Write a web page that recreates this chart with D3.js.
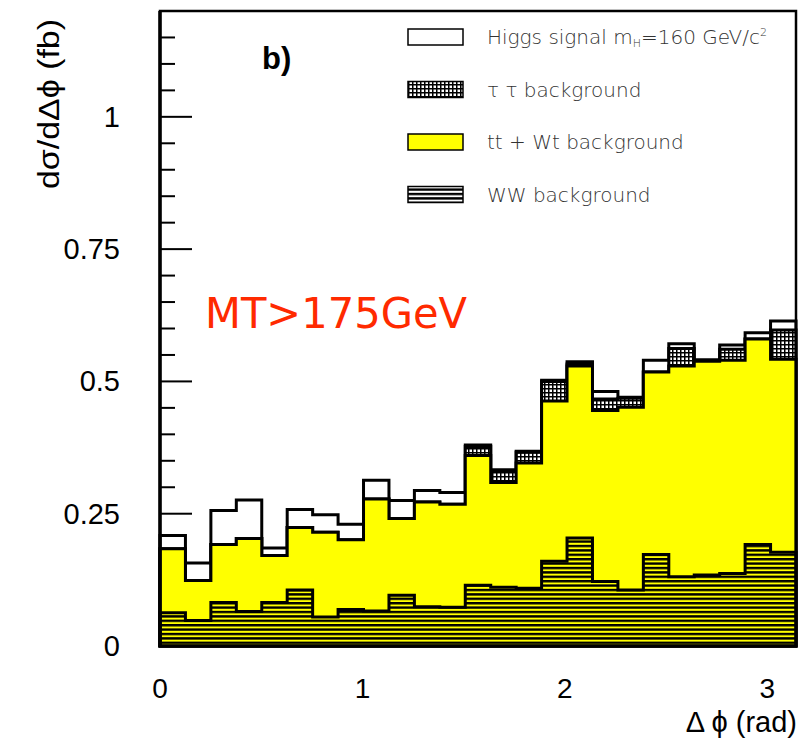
<!DOCTYPE html>
<html>
<head>
<meta charset="utf-8">
<script src="https://cdn.jsdelivr.net/npm/d3@7"></script>
<style>
  body { margin: 0; background: #fff; }
  svg { display: block; }
</style>
</head>
<body>
<svg id="chart" width="808" height="745"></svg>
<script>
// 25 bins over 0..pi, stacked from the bottom: WW, tt+Wt, tautau, Higgs
const nBins = 25;
const wwBkg = [0.063, 0.048, 0.082, 0.065, 0.082, 0.106, 0.055, 0.069, 0.066, 0.096, 0.074, 0.073, 0.115,
               0.111, 0.109, 0.160, 0.204, 0.122, 0.106, 0.173, 0.131, 0.134, 0.137, 0.192, 0.177];
const ttWtBkg = [0.121, 0.076, 0.110, 0.138, 0.089, 0.118, 0.160, 0.132, 0.212, 0.145, 0.198, 0.195, 0.245,
                 0.198, 0.237, 0.303, 0.325, 0.323, 0.345, 0.345, 0.398, 0.404, 0.403, 0.388, 0.365];
const tauTauBkg = [0, 0, 0, 0, 0, 0, 0, 0, 0, 0, 0, 0, 0.017,
                   0.022, 0.020, 0.037, 0.004, 0.022, 0.017, 0, 0.033, 0, 0.021, 0, 0.055];
const higgsSig = [0.025, 0.033, 0.064, 0.073, 0.014, 0.034, 0.033, 0.029, 0.035, 0.034, 0.022, 0.022, 0.003,
                  0.002, 0.002, 0.002, 0.004, 0.014, 0.002, 0.022, 0.009, 0.003, 0.008, 0.012, 0.017];

const yTickLabels = [0, 0.25, 0.5, 0.75, 1];
const xTickLabels = [0, 1, 2, 3];
const legendItems = ['Higgs signal', '\u03C4 \u03C4  background', 'tt + Wt background', 'WW background'];

const svg = d3.select('#chart');
const pLeft = 160, pRight = 796, pTop = 11, pBottom = 646;
const helv = 'Liberation Sans, Arial, sans-serif';

const x = d3.scaleLinear().domain([0, Math.PI]).range([pLeft, pRight]);
const y = d3.scaleLinear().domain([0, 1.2]).range([pBottom, pTop]);

// patterns
const defs = svg.append('defs');
const hatch = defs.append('pattern').attr('id', 'hatch')
    .attr('patternUnits', 'userSpaceOnUse').attr('width', 10).attr('height', 4.4)
    .attr('y', pBottom);
hatch.append('rect').attr('width', 10).attr('height', 2.4).attr('fill', '#000');

const dots = defs.append('pattern').attr('id', 'dots')
    .attr('patternUnits', 'userSpaceOnUse').attr('width', 4).attr('height', 4);
dots.append('rect').attr('width', 4).attr('height', 4).attr('fill', '#fff');
dots.append('rect').attr('width', 4).attr('height', 1.5).attr('fill', '#000');
dots.append('rect').attr('width', 1.5).attr('height', 4).attr('fill', '#000');

// y ticks (inward, under the histograms)
const ticks = d3.range(0, 1.2001, 0.05);
svg.append('g').selectAll('line').data(ticks).join('line')
    .attr('x1', pLeft).attr('x2', (d, i) => pLeft + (i % 5 === 0 ? 32 : 15))
    .attr('y1', d => y(d)).attr('y2', d => y(d))
    .attr('stroke', '#000').attr('stroke-width', 2);

// stacked cumulative levels
const edges = d3.range(nBins + 1).map(i => i * Math.PI / nBins);
const cum = (arrs) => d3.range(nBins).map(i => d3.sum(arrs, a => a[i]));
const levels = [
    { vals: cum([wwBkg, ttWtBkg, tauTauBkg, higgsSig]), fill: '#fff' },
    { vals: cum([wwBkg, ttWtBkg, tauTauBkg]), fill: 'url(#dots)' },
    { vals: cum([wwBkg, ttWtBkg]), fill: '#ffff00' },
    { vals: wwBkg, fill: 'url(#hatch)' }
];

const area = d3.area()
    .x(d => x(d.e)).y0(y(0)).y1(d => y(d.v))
    .curve(d3.curveStepAfter);

const hg = svg.append('g');
levels.forEach(lv => {
    const pts = edges.map((e, i) => ({ e: e, v: lv.vals[Math.min(i, nBins - 1)] }));
    hg.append('path').datum(pts)
        .attr('d', area)
        .attr('fill', lv.fill)
        .attr('stroke', '#000').attr('stroke-width', 3)
        .attr('stroke-linejoin', 'miter');
});

// frame
svg.append('rect').attr('x', pLeft).attr('y', pTop)
    .attr('width', pRight - pLeft).attr('height', pBottom - pTop)
    .attr('fill', 'none').attr('stroke', '#000').attr('stroke-width', 2.5);
svg.append('line').attr('x1', pLeft).attr('x2', pLeft).attr('y1', pTop).attr('y2', pBottom + 1)
    .attr('stroke', '#000').attr('stroke-width', 3.5);

// tick labels
svg.append('g').selectAll('text').data(yTickLabels).join('text')
    .attr('x', 120).attr('y', d => y(d) + 10)
    .attr('text-anchor', 'end')
    .attr('font-family', helv).attr('font-size', 29)
    .text(d => d);
svg.append('g').selectAll('text').data(xTickLabels).join('text')
    .attr('x', d => x(d)).attr('y', 698)
    .attr('text-anchor', 'middle')
    .attr('font-family', helv).attr('font-size', 28)
    .text(d => d);

// axis titles
svg.append('text')
    .attr('x', 797).attr('y', 732).attr('text-anchor', 'end')
    .attr('font-family', helv).attr('font-size', 29)
    .text('\u0394 \u03D5 (rad)');
svg.append('text')
    .attr('transform', 'translate(59,19) rotate(-90)').attr('text-anchor', 'end')
    .attr('font-family', helv).attr('font-size', 30)
    .attr('textLength', 170).attr('lengthAdjust', 'spacingAndGlyphs')
    .text('d\u03C3/d\u0394\u03D5 (fb)');

// panel label and cut annotation
svg.append('text').attr('x', 262).attr('y', 69)
    .attr('font-family', helv).attr('font-size', 31).attr('font-weight', 'bold')
    .text('b)');
svg.append('text').attr('x', 205).attr('y', 328)
    .attr('font-family', 'DejaVu Sans, sans-serif').attr('font-size', 42)
    .attr('fill', '#ff2a00')
    .attr('textLength', 262).attr('lengthAdjust', 'spacingAndGlyphs')
    .text('MT>175GeV');

// legend
const legFills = ['#fff', 'url(#dots)', '#ffff00', 'url(#hatch)'];
const lg = svg.append('g');
legendItems.forEach((name, i) => {
    const cy = 37 + i * 52.5;
    if (i === 3) {
        lg.append('rect').attr('x', 408).attr('y', cy - 8).attr('width', 55).attr('height', 16).attr('fill', '#fff');
    }
    lg.append('rect').attr('x', 408).attr('y', cy - 8).attr('width', 55).attr('height', 16)
        .attr('fill', legFills[i]).attr('stroke', '#000').attr('stroke-width', 1.5);
    const t = lg.append('text').attr('x', 487).attr('y', cy + 7)
        .attr('font-family', 'DejaVu Sans, sans-serif').attr('font-size', 20).attr('font-weight', 200)
        .attr('fill', '#333');
    t.text(name);
    if (i === 0) {
        t.append('tspan').text(' m');
        t.append('tspan').attr('font-size', 11).attr('dy', 3).text('H');
        t.append('tspan').attr('dy', -3).text('=160 GeV/c');
        t.append('tspan').attr('font-size', 11).attr('dy', -8).text('2');
    }
});
</script>
</body>
</html>
